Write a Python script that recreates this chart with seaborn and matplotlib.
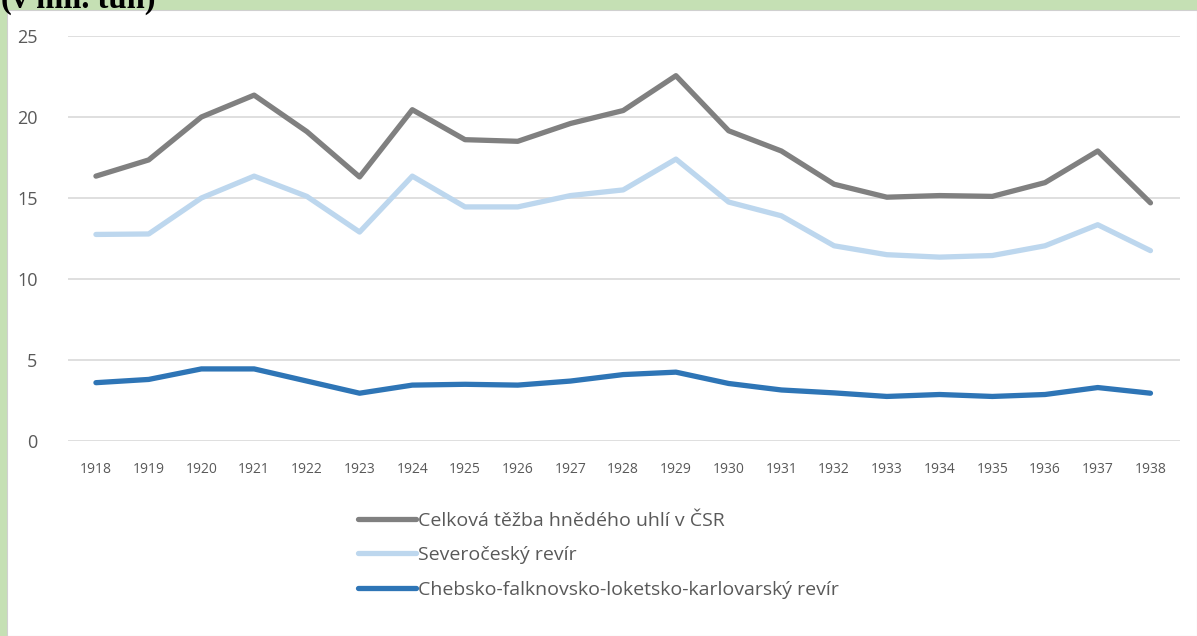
import matplotlib.pyplot as plt
import matplotlib.patches as mpatches
import pandas as pd
import seaborn as sns

# data (mil. tun)
years = list(range(1918, 1939))
celkova = [16.35, 17.35, 20.0, 21.35, 19.1, 16.3, 20.45, 18.6, 18.5, 19.6, 20.4,
           22.55, 19.15, 17.9, 15.85, 15.05, 15.15, 15.1, 15.95, 17.9, 14.7]
severocesky = [12.75, 12.78, 15.0, 16.35, 15.1, 12.9, 16.35, 14.45, 14.45, 15.15, 15.5,
               17.4, 14.75, 13.9, 12.05, 11.5, 11.35, 11.45, 12.05, 13.35, 11.75]
chebsko = [3.6, 3.8, 4.45, 4.45, 3.7, 2.95, 3.45, 3.5, 3.45, 3.7, 4.1,
           4.25, 3.55, 3.15, 2.97, 2.75, 2.87, 2.75, 2.87, 3.3, 2.95]

series_names = ['Celková těžba hnědého uhlí v ČSR',
                'Severočeský revír',
                'Chebsko-falknovsko-loketsko-karlovarský revír']
colors = ['#808080', '#bdd7ee', '#2e75b6']

df = pd.DataFrame({'rok': years * 3,
                   'hodnota': celkova + severocesky + chebsko,
                   'serie': [s for s in series_names for _ in years]})

sns.set_style("white")
plt.rcParams['font.family'] = ['Open Sans', 'DejaVu Sans']

fig = plt.figure(figsize=(11.97, 6.36), dpi=100, facecolor='#c5e0b4')
# white panel inside the green frame
fig.patches.append(mpatches.Rectangle((7 / 1197, 0), 1 - 7 / 1197, 1 - 10 / 636,
                                      transform=fig.transFigure, facecolor='white',
                                      edgecolor='#d0d0d0', linewidth=0.8, zorder=-5))
# heading is cut by the top edge, as in the source
fig.text(0.001, 1 - 8 / 636, '(v mil. tun)', family='Liberation Serif', weight='bold',
         fontsize=23.5, va='baseline', ha='left', color='black')

ax = fig.add_axes([68 / 1197, 1 - 441 / 636, (1180 - 68) / 1197, (441 - 36) / 636])
ax.set_zorder(2)
ax.set_facecolor('none')
sns.lineplot(data=df, x='rok', y='hodnota', hue='serie', hue_order=series_names,
             palette=colors, linewidth=3.8, ax=ax, legend=False,
             solid_capstyle='round', solid_joinstyle='round')

ax.set_xlim(1917.47, 1938.56)
ax.set_ylim(0, 25)
ax.set_yticks([0, 5, 10, 15, 20, 25])
ax.set_xticks(years)
ax.set_xticklabels([str(y) for y in years])
ax.grid(axis='y', color='#d9d9d9', linewidth=1.2)
ax.set_axisbelow(True)
for s in ax.spines.values():
    s.set_visible(False)
ax.tick_params(axis='y', length=0, pad=22, labelsize=13, labelcolor='#595959')
ax.tick_params(axis='x', length=0, pad=15, labelsize=10, labelcolor='#595959')
ax.set_xlabel('')
ax.set_ylabel('')

handles = [plt.Line2D([], [], color=c, linewidth=3.8, solid_capstyle='round') for c in colors]
leg = fig.legend(handles, series_names, loc='upper left',
                 bbox_to_anchor=(340 / 1197, 1 - 494 / 636), frameon=False,
                 fontsize=14, handlelength=3.0, handletextpad=0.1, labelspacing=0.85,
                 labelcolor='#595959')
leg.set_zorder(3)

fig.savefig('out.png', dpi=100, facecolor=fig.get_facecolor())
